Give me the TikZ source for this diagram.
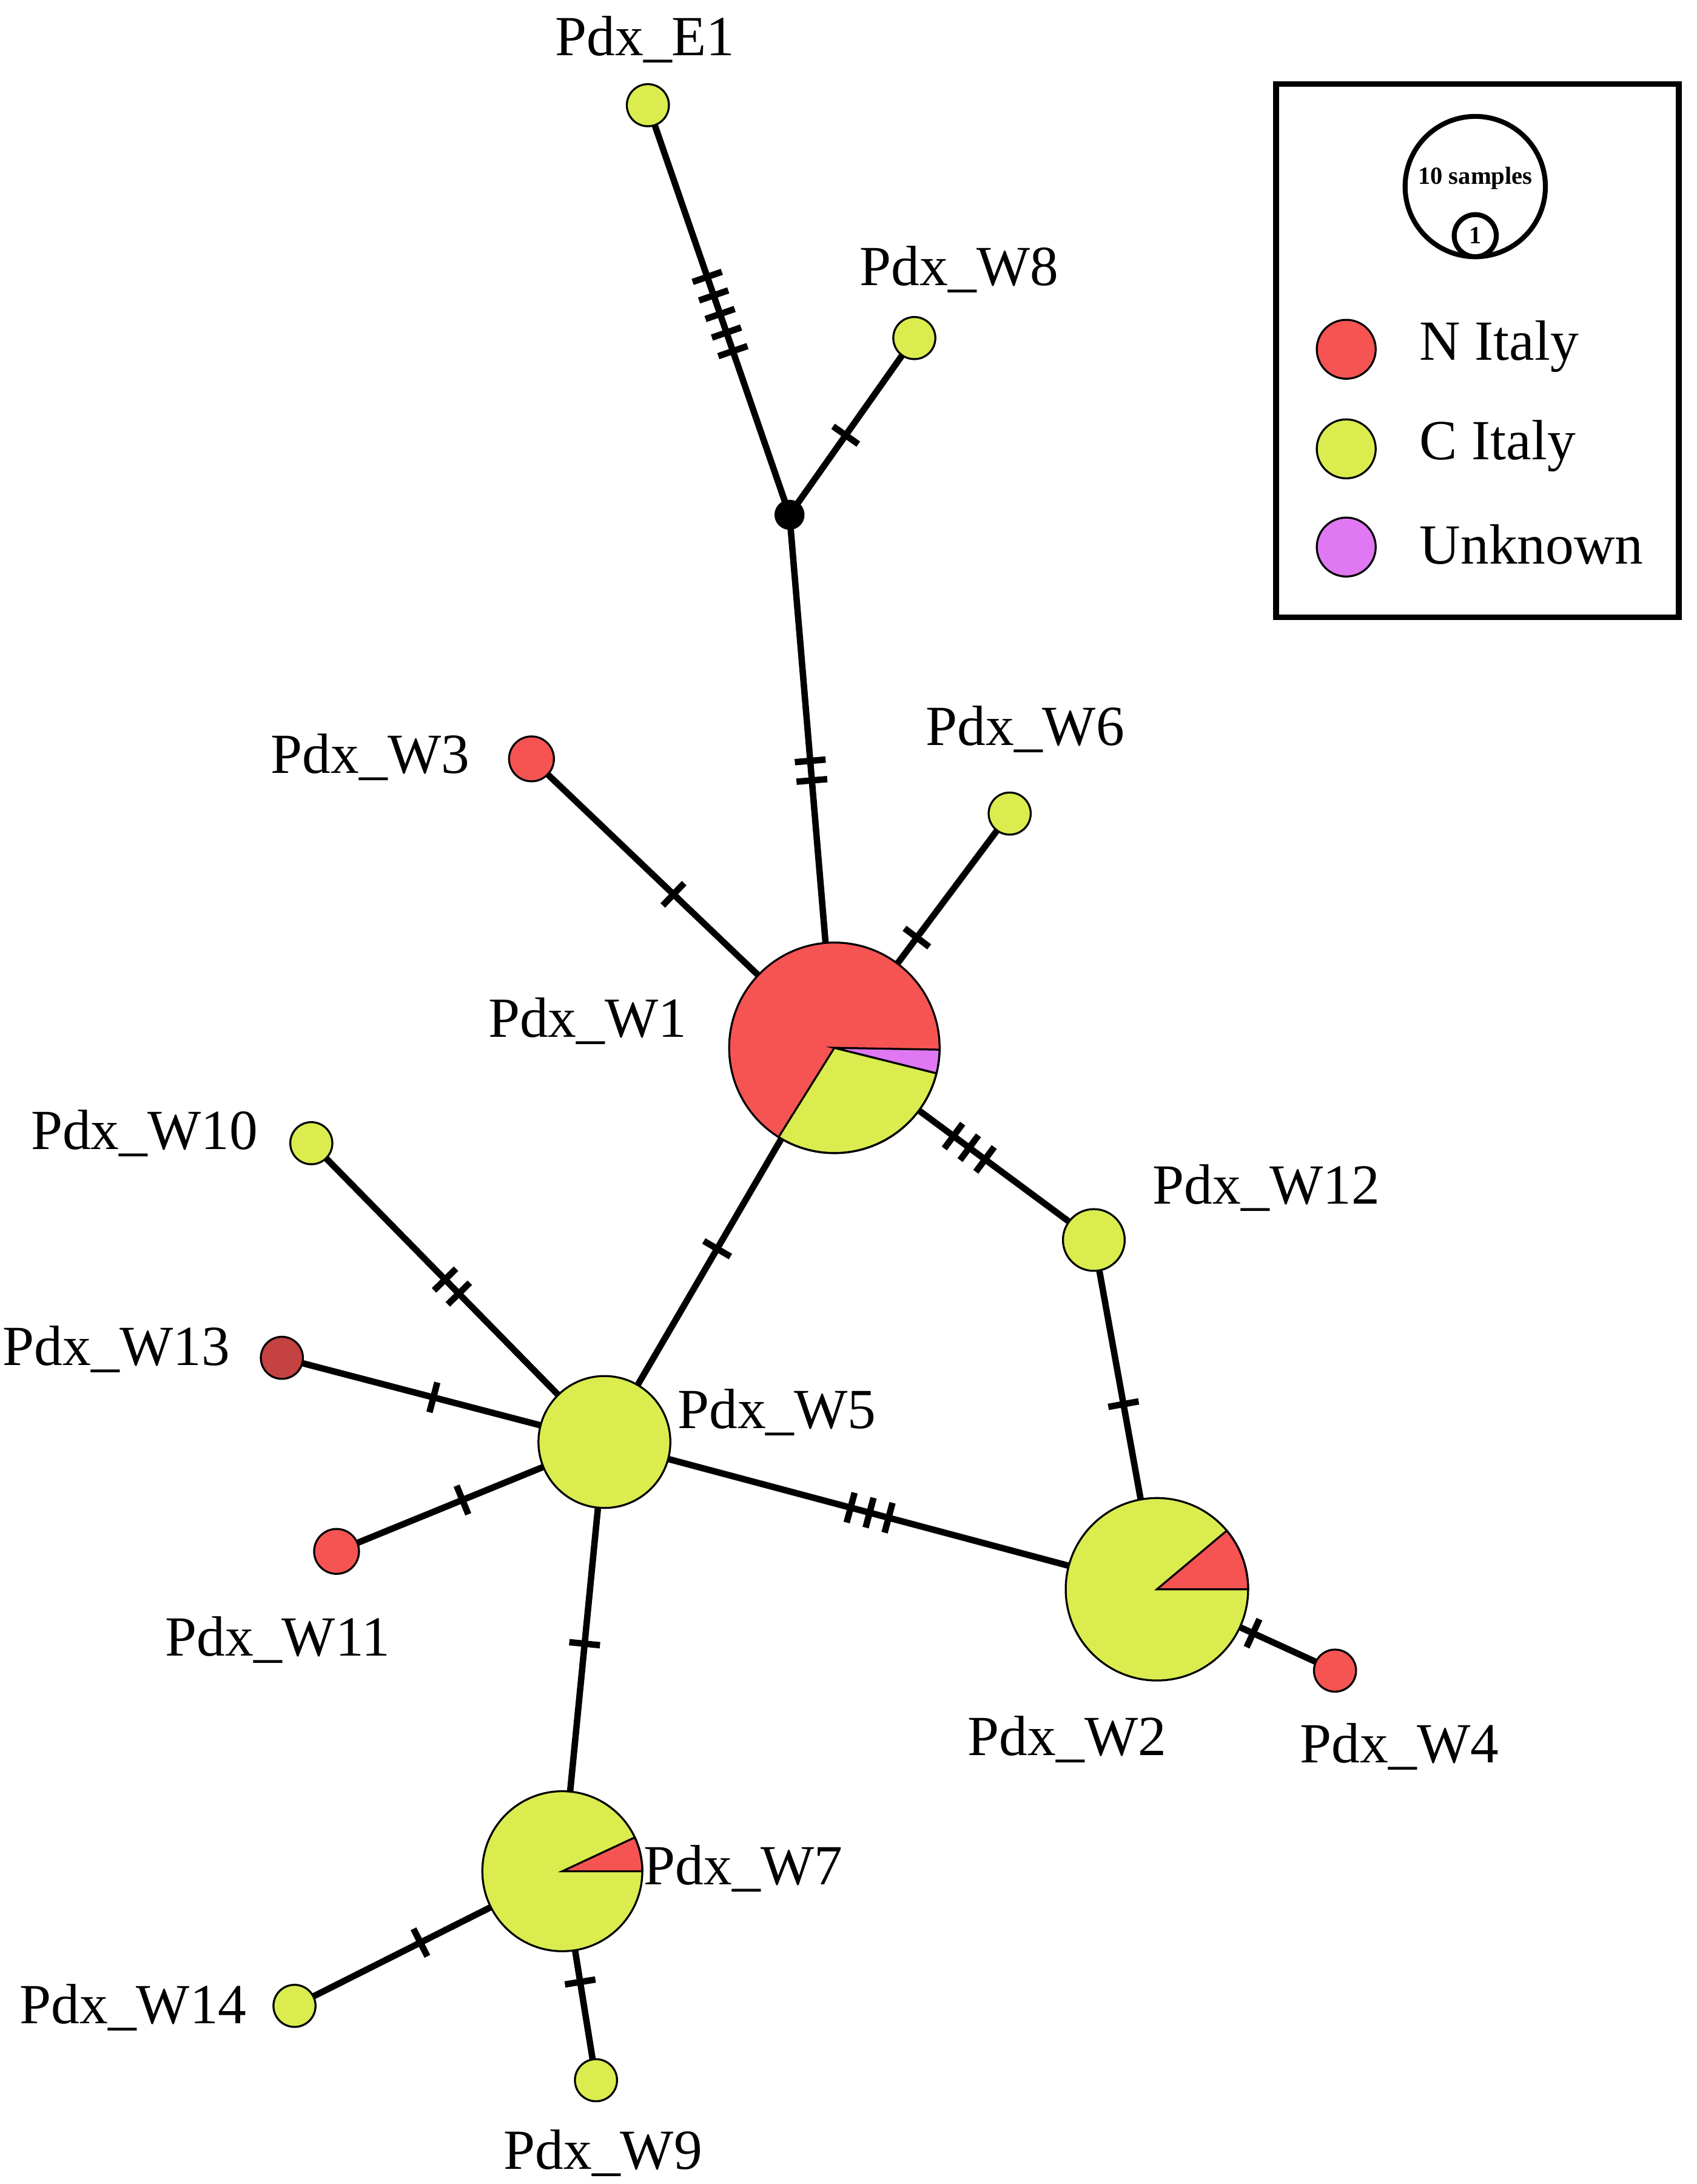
\documentclass[tikz,border=0pt]{standalone}
\usepackage{fontspec}
\setmainfont{Liberation Serif}
\usetikzlibrary{decorations.markings,backgrounds}
\definecolor{nred}{HTML}{F65353}
\definecolor{cgreen}{HTML}{DBEC4F}
\definecolor{unk}{HTML}{DF78F2}
\tikzset{
  hap/.style={circle, draw, thin, inner sep=0pt, minimum size=#1},
  lab/.style={font=\fontsize{11.5}{13}\selectfont},
  link/.style={line width=1.3pt},
  hash/.style 2 args={postaction={decorate, decoration={markings,
    mark=at position #1 with {\foreach \k in {1,...,#2}{\draw[line width=1.3pt] ({(\k-(#2+1)/2)*14},-11) -- ++(0,22);}}}}}
}
\begin{document}
\begin{tikzpicture}[x=0.01cm,y=-0.01cm]
  \useasboundingbox (0,0) rectangle (1210,1557);

  % haplotypes
  \node[hap=0.3cm, fill=cgreen] (E1) at (462,75) {};
  \node[hap=0.3cm, fill=cgreen] (W8) at (652,241) {};
  \node[hap=0.2cm, fill=black] (J) at (563,367) {};
  \node[hap=0.32cm, fill=nred] (W3) at (379,541) {};
  \node[hap=0.3cm, fill=cgreen] (W6) at (720,580) {};
  \node[hap=1.5cm, fill=nred] (W1) at (595,747) {};
  \node[hap=0.3cm, fill=cgreen] (W10) at (222,815) {};
  \node[hap=0.44cm, fill=cgreen] (W12) at (780,884) {};
  \node[hap=0.3cm, fill=nred!80!black] (W13) at (201,968) {};
  \node[hap=0.94cm, fill=cgreen] (W5) at (431,1028) {};
  \node[hap=0.32cm, fill=nred] (W11) at (240,1106) {};
  \node[hap=1.3cm, fill=cgreen] (W2) at (825,1133) {};
  \node[hap=0.3cm, fill=nred] (W4) at (952,1191) {};
  \node[hap=1.14cm, fill=cgreen] (W7) at (401,1334) {};
  \node[hap=0.3cm, fill=cgreen] (W14) at (210,1430) {};
  \node[hap=0.3cm, fill=cgreen] (W9) at (425,1483) {};

  % pie slices
  \filldraw[fill=cgreen, thin] (W1.center) -- ++(14:75) arc (14:122:75) -- cycle;
  \filldraw[fill=unk, thin] (W1.center) -- ++(1:75) arc (1:14:75) -- cycle;
  \filldraw[fill=nred, thin] (W2.center) -- ++(-40:65) arc (-40:0:65) -- cycle;
  \filldraw[fill=nred, thin] (W7.center) -- ++(-25:57) arc (-25:0:57) -- cycle;

  % links
  \begin{scope}[on background layer]
    \draw[link, hash={0.51}{5}] (E1.center) -- (J.center);
    \draw[link, hash={0.55}{1}] (W8.center) -- (J.center);
    \draw[link, hash={0.48}{2}] (J.center) -- (W1.center);
    \draw[link, hash={0.47}{1}] (W3.center) -- (W1.center);
    \draw[link, hash={0.53}{1}] (W6.center) -- (W1.center);
    \draw[link, hash={0.52}{3}] (W1.center) -- (W12.center);
    \draw[link, hash={0.51}{1}] (W1.center) -- (W5.center);
    \draw[link, hash={0.48}{2}] (W10.center) -- (W5.center);
    \draw[link, hash={0.47}{1}] (W13.center) -- (W5.center);
    \draw[link, hash={0.47}{1}] (W11.center) -- (W5.center);
    \draw[link, hash={0.48}{3}] (W5.center) -- (W2.center);
    \draw[link, hash={0.47}{1}] (W12.center) -- (W2.center);
    \draw[link, hash={0.54}{1}] (W2.center) -- (W4.center);
    \draw[link, hash={0.47}{1}] (W5.center) -- (W7.center);
    \draw[link, hash={0.53}{1}] (W7.center) -- (W14.center);
    \draw[link, hash={0.53}{1}] (W7.center) -- (W9.center);
  \end{scope}

  % labels
  \node[lab] (lE1) at (460,28) {Pdx\_E1};
  \node[lab] (lW8) at (684,192) {Pdx\_W8};
  \node[lab] (lW3) at (264,540) {Pdx\_W3};
  \node[lab] (lW6) at (731,520) {Pdx\_W6};
  \node[lab] (lW1) at (419,728) {Pdx\_W1};
  \node[lab] (lW10) at (103,808) {Pdx\_W10};
  \node[lab] (lW12) at (903,847) {Pdx\_W12};
  \node[lab] (lW13) at (83,962) {Pdx\_W13};
  \node[lab] (lW5) at (554,1007) {Pdx\_W5};
  \node[lab] (lW11) at (198,1169) {Pdx\_W11};
  \node[lab] (lW2) at (761,1240) {Pdx\_W2};
  \node[lab] (lW4) at (998,1245) {Pdx\_W4};
  \node[lab] (lW7) at (530,1332) {Pdx\_W7};
  \node[lab] (lW14) at (95,1431) {Pdx\_W14};
  \node[lab] (lW9) at (430,1535) {Pdx\_W9};

  % legend
  \node[draw, line width=1.2pt, minimum width=2.87cm, minimum height=3.8cm] (legend) at (1053.5,250) {};
  \node[hap=1cm, line width=1pt] (ten) at (1052,133) {};
  \node[font=\fontsize{5}{6}\selectfont\bfseries] (tenlab) at (1052,127) {10 samples};
  \node[hap=0.3cm, line width=1pt, font=\fontsize{5}{6}\selectfont\bfseries] (one) at (1052,168) {1};
  \node[hap=0.42cm, fill=nred] (kN) at (960,249) {};
  \node[hap=0.42cm, fill=cgreen] (kC) at (960,320) {};
  \node[hap=0.42cm, fill=unk] (kU) at (960,390) {};
  \node[lab, anchor=west] (tN) at (1000,247) {N Italy};
  \node[lab, anchor=west] (tC) at (1000,318) {C Italy};
  \node[lab, anchor=west] (tU) at (1000,388) {Unknown};
\end{tikzpicture}
\end{document}
